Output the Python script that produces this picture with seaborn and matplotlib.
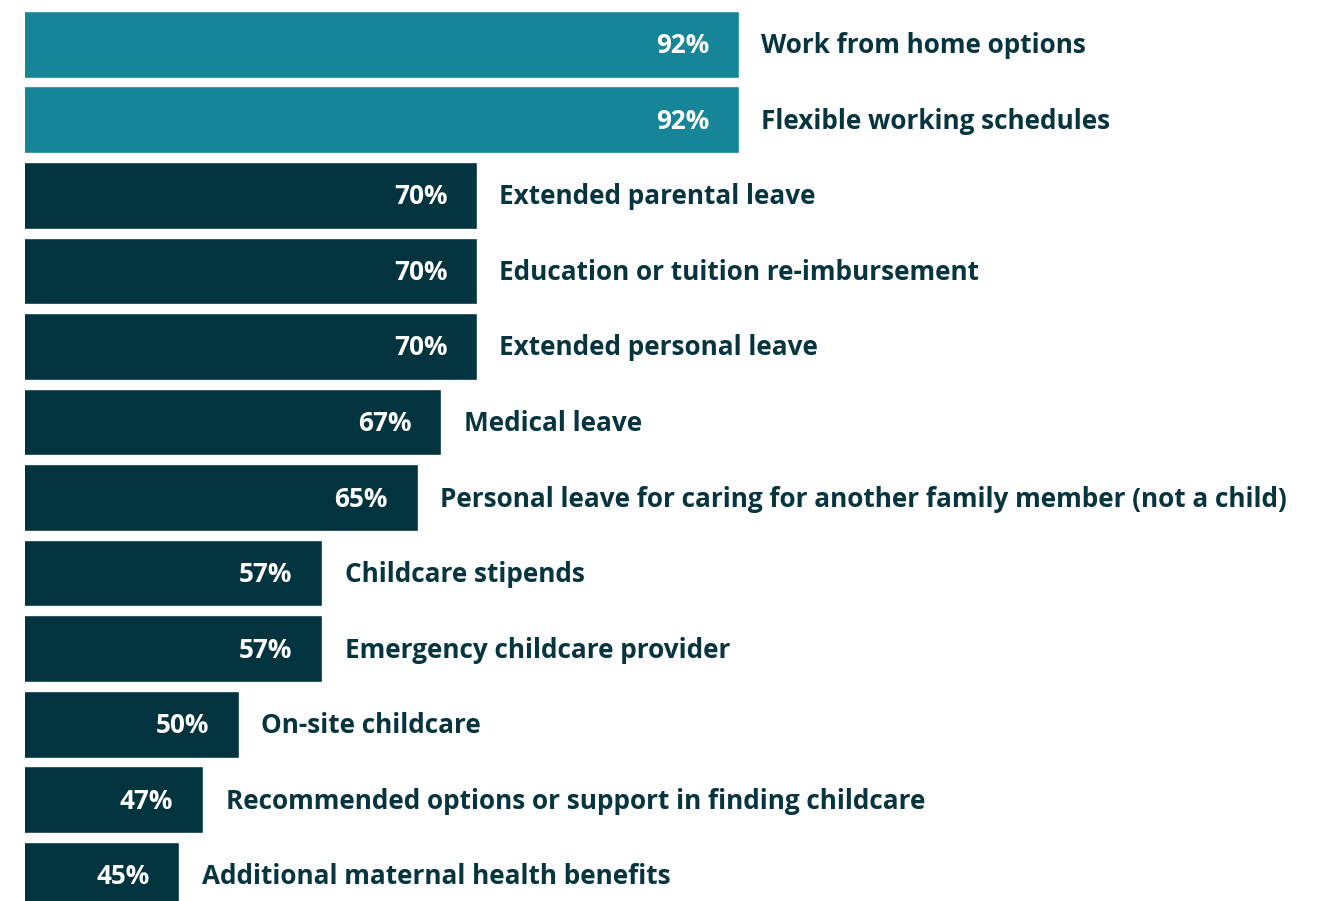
import matplotlib
matplotlib.use("Agg")
import matplotlib.pyplot as plt
import seaborn as sns
import pandas as pd

benefits = [
    "Work from home options",
    "Flexible working schedules",
    "Extended parental leave",
    "Education or tuition re-imbursement",
    "Extended personal leave",
    "Medical leave",
    "Personal leave for caring for another family member (not a child)",
    "Childcare stipends",
    "Emergency childcare provider",
    "On-site childcare",
    "Recommended options or support in finding childcare",
    "Additional maternal health benefits",
]
shares = [92, 92, 70, 70, 70, 67, 65, 57, 57, 50, 47, 45]
highlighted = [True, True, False, False, False, False, False, False, False, False, False, False]

TEAL = "#168598"
DARK = "#023440"
TEXT = "#06343f"

df = pd.DataFrame({"benefit": benefits, "share": shares})
palette = {b: (TEAL if h else DARK) for b, h in zip(benefits, highlighted)}

sns.set_theme(style="white")
plt.rcParams["font.family"] = ["Open Sans", "DejaVu Sans"]

W, H = 1333, 901
fig = plt.figure(figsize=(W / 100, H / 100), dpi=100)
fig.patch.set_facecolor("white")
left_px = 24.5
ax = fig.add_axes([left_px / W, 0, 1 - left_px / W, 1])

sns.barplot(data=df, x="share", y="benefit", hue="benefit", palette=palette,
            orient="h", width=0.883, legend=False, ax=ax, saturation=1)

ax.set_xlim(32, 32 + (W - left_px) / 11.91)
ax.set_ylim(11.34, -0.586)
ax.axis("off")

for i, (b, v) in enumerate(zip(benefits, shares)):
    ax.text(v - 2.5, i + 0.02, f"{v}%", ha="right", va="center", color="white",
            fontsize=18.8, fontweight="bold")
    ax.text(v + 1.88, i + 0.02, b, ha="left", va="center", color=TEXT,
            fontsize=18.8, fontweight="bold")

fig.savefig("out.png", dpi=100, facecolor="white")
